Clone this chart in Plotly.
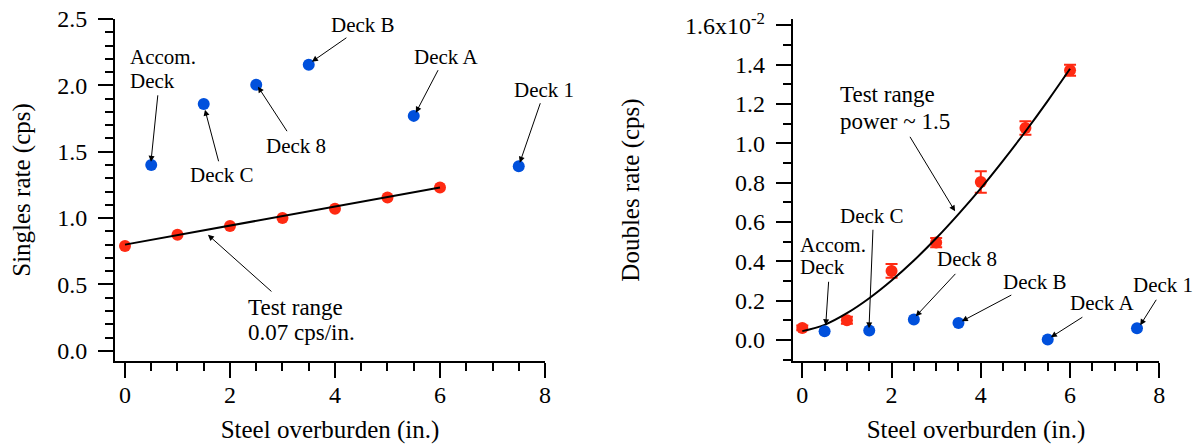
import plotly.graph_objects as go

# ---- data ----
test_x = [0, 1, 2, 3, 4, 5, 6]
singles_test = [0.79, 0.875, 0.94, 1.00, 1.07, 1.155, 1.23]
deck_x = [0.5, 1.5, 2.5, 3.5, 5.5, 7.5]
deck_names = ["Accom. Deck", "Deck C", "Deck 8", "Deck B", "Deck A", "Deck 1"]
singles_deck = [1.40, 1.86, 2.005, 2.155, 1.77, 1.39]
singles_fit_x = [0, 6]
singles_fit_y = [0.80, 1.23]

doubles_test = [0.00061, 0.00100, 0.00351, 0.00495, 0.00803, 0.01078, 0.01371]
doubles_err = [0.00012, 0.00018, 0.00035, 0.00024, 0.00055, 0.00034, 0.00028]
doubles_deck = [0.00044, 0.00048, 0.00104, 0.00086, 0.00002, 0.00059]
doubles_fit_x = [0, 0.5, 1, 1.5, 2, 2.5, 3, 3.5, 4, 4.5, 5, 5.5, 6]
doubles_fit_y = [0.00045, 0.00077, 0.00136, 0.00212, 0.00302, 0.00404, 0.00517,
                 0.00640, 0.00771, 0.00912, 0.01060, 0.01216, 0.01379]

left_yticks = [0.0, 0.5, 1.0, 1.5, 2.0, 2.5]
right_yticks = [0.0, 0.002, 0.004, 0.006, 0.008, 0.010, 0.012, 0.014, 0.016]
right_yticktext = ["0.0", "0.2", "0.4", "0.6", "0.8", "1.0", "1.2", "1.4", "1.6x10<sup>-2</sup>"]
xticks = [0, 2, 4, 6, 8]

RED = "#ff2a12"
BLUE = "#0050dc"
FONT = "Liberation Serif, Times New Roman, serif"
W, H = 1198, 448

fig = go.Figure()

# left panel
fig.add_trace(go.Scatter(x=test_x, y=singles_test, mode="markers",
                         marker=dict(color=RED, size=12), xaxis="x", yaxis="y",
                         showlegend=False, cliponaxis=False))
fig.add_trace(go.Scatter(x=singles_fit_x, y=singles_fit_y, mode="lines",
                         line=dict(color="black", width=2), xaxis="x", yaxis="y",
                         showlegend=False))
fig.add_trace(go.Scatter(x=deck_x, y=singles_deck, mode="markers",
                         marker=dict(color=BLUE, size=12), xaxis="x", yaxis="y",
                         showlegend=False, cliponaxis=False))

# right panel
fig.add_trace(go.Scatter(x=test_x, y=doubles_test, mode="markers",
                         marker=dict(color=RED, size=12),
                         error_y=dict(type="data", array=doubles_err, color=RED,
                                      thickness=2, width=6),
                         xaxis="x2", yaxis="y2", showlegend=False, cliponaxis=False))
fig.add_trace(go.Scatter(x=doubles_fit_x, y=doubles_fit_y, mode="lines",
                         line=dict(color="black", width=2, shape="spline"),
                         xaxis="x2", yaxis="y2", showlegend=False))
fig.add_trace(go.Scatter(x=deck_x, y=doubles_deck, mode="markers",
                         marker=dict(color=BLUE, size=12), xaxis="x2", yaxis="y2",
                         showlegend=False, cliponaxis=False))

axis_common = dict(showgrid=False, zeroline=False, showline=True, linecolor="black",
                   linewidth=2, ticks="outside", tickcolor="black", tickwidth=2,
                   ticklen=15, automargin=False,
                   tickfont=dict(family=FONT, size=24, color="black"),
                   title_font=dict(family=FONT, size=25, color="black"))
minor_x = dict(dtick=0.5, ticklen=8, tickwidth=2, tickcolor="black", ticks="outside")

fig.update_layout(
    width=W, height=H,
    margin=dict(l=0, r=0, t=0, b=0),
    paper_bgcolor="white", plot_bgcolor="white",
    font=dict(family=FONT, size=21, color="black"),
    xaxis=dict(domain=[115/W, 545/W], range=[-0.19, 8], anchor="y",
               tickvals=xticks, ticklabelstandoff=-4,
               title=dict(text="Steel overburden (in.)", standoff=14),
               minor=minor_x, **axis_common),
    yaxis=dict(domain=[(H-361)/H, (H-19)/H], range=[-0.077, 2.5], anchor="x",
               tickvals=left_yticks, tickformat=".1f", ticklabelstandoff=6,
               title=dict(text="Singles rate (cps)", standoff=19),
               minor=dict(dtick=0.1, ticklen=8, tickwidth=2, tickcolor="black", ticks="outside"),
               **axis_common),
    xaxis2=dict(domain=[792.7/W, 1159.3/W], range=[-0.215, 8], anchor="y2",
                tickvals=xticks, ticklabelstandoff=-4,
                title=dict(text="Steel overburden (in.)", standoff=14),
                minor=minor_x, **axis_common),
    yaxis2=dict(domain=[(H-361)/H, (H-19)/H], range=[-0.00107, 0.01632], anchor="x2",
                tickvals=right_yticks, ticktext=right_yticktext, ticklabelstandoff=6,
                title=dict(text="Doubles rate (cps)", standoff=38),
                minor=dict(dtick=0.001, ticklen=8, tickwidth=2, tickcolor="black", ticks="outside"),
                **axis_common),
)

def arrow(xref, yref, x, y, ax, ay):
    fig.add_annotation(xref=xref, yref=yref, x=x, y=y, ax=ax, ay=ay, text="",
                       showarrow=True, arrowhead=2, arrowsize=1.2, arrowwidth=1,
                       arrowcolor="black")

def label(px, py, text, xanchor="center", size=21):
    # px, py: label position in page pixels (paper coordinates with zero margins)
    fig.add_annotation(xref="paper", yref="paper", x=px / W, y=(H - py) / H, text=text,
                       showarrow=False, xanchor=xanchor, yanchor="middle",
                       font=dict(family=FONT, size=size, color="black"))

# left annotations
label(128, 57, "Accom.", xanchor="left")
label(128, 81, "Deck", xanchor="left")
arrow("x", "y", 0.495, 1.424, 7, -68)
label(222, 175, "Deck C")
arrow("x", "y", 1.524, 1.816, 14, 53)
label(296, 146, "Deck 8")
arrow("x", "y", 2.533, 1.99, 30, 46)
label(363, 25, "Deck B")
arrow("x", "y", 3.56, 2.178, 36, -25)
label(446, 57, "Deck A")
arrow("x", "y", 5.54, 1.794, 23, -44)
label(544, 90, "Deck 1")
arrow("x", "y", 7.52, 1.417, 21, -61)
label(246, 307, "Test range", xanchor="left", size=23)
label(246, 332, "0.07 cps/in.", xanchor="left", size=23)
arrow("x", "y", 1.58, 0.874, 65, 58)

# right annotations
label(798, 245, "Accom.", xanchor="left")
label(798, 267, "Deck", xanchor="left")
arrow("x2", "y2", 0.525, 0.000747, 3, -45)
label(872, 216, "Deck C")
arrow("x2", "y2", 1.495, 0.000595, 4, -100)
label(838, 95, "Test range", xanchor="left", size=23)
label(838, 121, "power ~ 1.5", xanchor="left", size=23)
arrow("x2", "y2", 3.424, 0.00654, -46, -76)
label(967, 259, "Deck 8")
arrow("x2", "y2", 2.543, 0.00120, 41, -44)
label(1035, 282, "Deck B")
arrow("x2", "y2", 3.574, 0.00095, 51, -27)
label(1102, 303, "Deck A")
arrow("x2", "y2", 5.57, 0.000137, 33, -21)
label(1163, 285, "Deck 1")
arrow("x2", "y2", 7.572, 0.000747, 17, -27)

fig.write_html("out.html")
